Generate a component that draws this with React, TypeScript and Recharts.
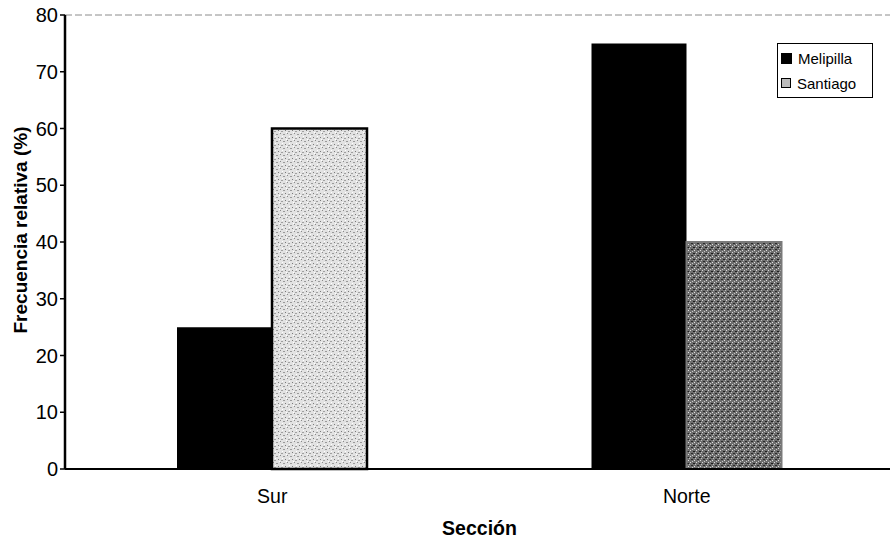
import React from 'react';
import { BarChart, Bar, XAxis, YAxis, ReferenceLine, Cell } from 'recharts';

const secciones = ['Sur', 'Norte'];
const melipilla = [25, 75];
const santiago = [60, 40];
const yTicks = [0, 10, 20, 30, 40, 50, 60, 70, 80];

const data = secciones.map((s, i) => ({ seccion: s, melipilla: melipilla[i], santiago: santiago[i] }));

const FONT = '"Liberation Sans", Arial, sans-serif';

// stipple fills for the Santiago bars (light for Sur, dark for Norte)
const Patterns = () => (
  <svg width={0} height={0} style={{ position: 'absolute' }}>
    <defs>
      <pattern id="stippleLight" width={7} height={7} patternUnits="userSpaceOnUse">
        <rect width={7} height={7} fill="#e2e2e2" />
        <rect x={0} y={0} width={1} height={1} fill="#8a8a8a" />
        <rect x={3} y={1} width={2} height={1} fill="#9a9a9a" />
        <rect x={5} y={4} width={1} height={1} fill="#7a7a7a" />
        <rect x={1} y={5} width={2} height={1} fill="#a0a0a0" />
        <rect x={2} y={3} width={1} height={1} fill="#ffffff" />
        <rect x={6} y={6} width={1} height={1} fill="#ffffff" />
      </pattern>
      <pattern id="stippleDark" width={6} height={6} patternUnits="userSpaceOnUse">
        <rect width={6} height={6} fill="#6e6e6e" />
        <rect x={0} y={0} width={1} height={1} fill="#d8d8d8" />
        <rect x={3} y={1} width={2} height={1} fill="#1e1e1e" />
        <rect x={4} y={4} width={1} height={1} fill="#e0e0e0" />
        <rect x={1} y={3} width={2} height={1} fill="#2a2a2a" />
        <rect x={5} y={2} width={1} height={1} fill="#bdbdbd" />
        <rect x={2} y={5} width={1} height={1} fill="#c8c8c8" />
      </pattern>
    </defs>
  </svg>
);

const LegendBox = () => (
  <div
    style={{
      position: 'absolute',
      left: 777,
      top: 43,
      border: '1.5px solid #000',
      width: 96,
      height: 55,
      boxSizing: 'border-box',
      padding: '4px 0 0 3px',
      fontFamily: FONT,
      fontSize: 15,
      color: '#000',
      background: '#fff',
    }}
  >
    <div style={{ display: 'flex', alignItems: 'center', height: 20 }}>
      <span style={{ width: 11, height: 11, background: '#000', marginRight: 6 }} />
      Melipilla
    </div>
    <div style={{ display: 'flex', alignItems: 'center', height: 20, marginTop: 5 }}>
      <span
        style={{ width: 8, height: 8, border: '1.5px solid #000', background: '#bbb', marginRight: 6 }}
      />
      Santiago
    </div>
  </div>
);

const YLabel = (props: any) => {
  const vb = props.viewBox || {};
  const cy = 230;
  return (
    <text
      x={27}
      y={cy}
      transform={`rotate(-90, 27, ${cy})`}
      textAnchor="middle"
      fontFamily={FONT}
      fontSize={19}
      fontWeight="bold"
      fill="#000"
    >
      Frecuencia relativa (%)
    </text>
  );
};

export default function App() {
  return (
    <div style={{ position: 'absolute', left: 0, top: 0, width: 890, height: 539, overflow: 'hidden', background: '#fff' }}>
      <Patterns />
      <BarChart
        width={900}
        height={539}
        data={data}
        margin={{ top: 15, right: 6, bottom: 40, left: 20 }}
        barSize={95}
        barGap={0}
      >
        <ReferenceLine y={80} stroke="#8c8c8c" strokeDasharray="7 3" strokeWidth={1} />
        <XAxis
          dataKey="seccion"
          height={30}
          tickLine={false}
          tickSize={0}
          tickMargin={20}
          axisLine={{ stroke: '#000', strokeWidth: 2 }}
          tick={{ fill: '#000', fontSize: 19.5, fontFamily: FONT }}
          label={{
            value: 'Sección',
            position: 'bottom',
            offset: 22,
            fill: '#000',
            fontSize: 19.5,
            fontWeight: 'bold',
            fontFamily: FONT,
          }}
        />
        <YAxis
          width={45}
          domain={[0, 80]}
          ticks={yTicks}
          interval={0}
          tickSize={5}
          tickLine={{ stroke: '#000', strokeWidth: 1.5 }}
          axisLine={{ stroke: '#000', strokeWidth: 2.5 }}
          tick={{ fill: '#000', fontSize: 20, fontFamily: FONT }}
          label={<YLabel />}
        />
        <Bar dataKey="melipilla" name="Melipilla" fill="#000" isAnimationActive={false} />
        <Bar dataKey="santiago" name="Santiago" isAnimationActive={false}>
          <Cell fill="url(#stippleLight)" stroke="#000" strokeWidth={2.5} />
          <Cell fill="url(#stippleDark)" stroke="#7a7a7a" strokeWidth={2} />
        </Bar>
      </BarChart>
      <LegendBox />
    </div>
  );
}
